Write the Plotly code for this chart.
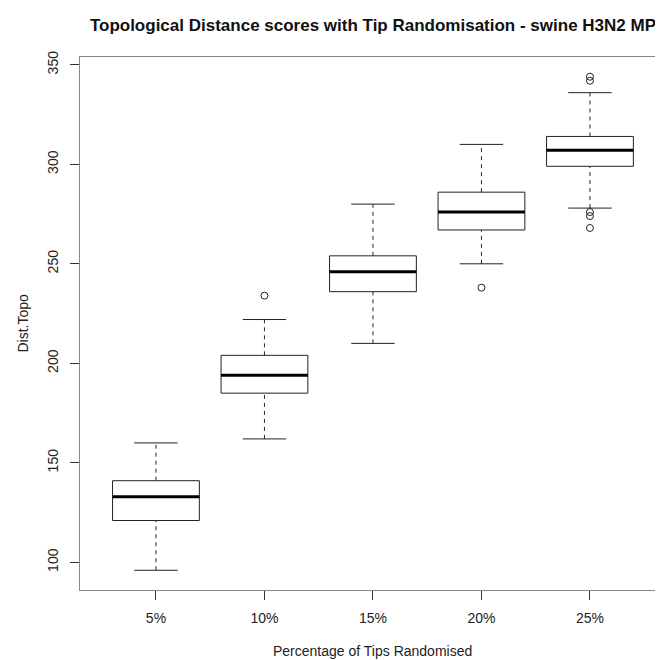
import plotly.graph_objects as go

# ---- data ----
categories = ["5%", "10%", "15%", "20%", "25%"]
lower_whisker = [96, 162, 210, 250, 278]
q1 = [121, 185, 236, 267, 299]
median = [133, 194, 246, 276, 307]
q3 = [141, 204, 254, 286, 314]
upper_whisker = [160, 222, 280, 310, 336]
outlier_group = [2, 4, 5, 5, 5, 5, 5]
outlier_value = [234, 238, 344, 342, 276, 274, 268]

y_ticks = [100, 150, 200, 250, 300, 350]

title = "Topological Distance scores with Tip Randomisation - swine H3N2 MP"
x_title = "Percentage of Tips Randomised"
y_title = "Dist.Topo"

# ---- geometry (R boxplot defaults) ----
half_box = 0.4
half_cap = 0.2
positions = list(range(1, len(categories) + 1))

box_x, box_y = [], []
wh_x, wh_y = [], []
cap_x, cap_y = [], []
med_x, med_y = [], []
for p, lw, a, m, b, uw in zip(positions, lower_whisker, q1, median, q3, upper_whisker):
    box_x += [p - half_box, p + half_box, p + half_box, p - half_box, p - half_box, None]
    box_y += [a, a, b, b, a, None]
    wh_x += [p, p, None, p, p, None]
    wh_y += [lw, a, None, b, uw, None]
    cap_x += [p - half_cap, p + half_cap, None, p - half_cap, p + half_cap, None]
    cap_y += [lw, lw, None, uw, uw, None]
    med_x += [p - half_box, p + half_box, None]
    med_y += [m, m, None]

line_col = "#222222"
fig = go.Figure()
fig.add_trace(go.Scatter(x=wh_x, y=wh_y, mode="lines",
                         line=dict(color=line_col, width=1, dash="4px,4px"),
                         hoverinfo="skip"))
fig.add_trace(go.Scatter(x=cap_x, y=cap_y, mode="lines",
                         line=dict(color=line_col, width=1), hoverinfo="skip"))
fig.add_trace(go.Scatter(x=box_x, y=box_y, mode="lines",
                         line=dict(color=line_col, width=1), hoverinfo="skip"))
fig.add_trace(go.Scatter(x=med_x, y=med_y, mode="lines",
                         line=dict(color="#000000", width=3), hoverinfo="skip"))
fig.add_trace(go.Scatter(x=outlier_group, y=outlier_value, mode="markers",
                         marker=dict(symbol="circle-open", size=7,
                                     color=line_col, line=dict(width=1)),
                         hoverinfo="y"))

data_min = min(lower_whisker + outlier_value)
data_max = max(upper_whisker + outlier_value)
span = data_max - data_min
y_range = [data_min - 0.04 * span, data_max + 0.04 * span]

# the page body has an 8px margin, so the figure is made 8px smaller
W, H = 655, 652
L, R, T, B = 72, 0, 49, 70
x_lo = 0.5 - 0.04 * len(categories)
px_per_unit = 108.5
x_hi = x_lo + (W - L - R) / px_per_unit

font = "Liberation Sans, Arial, Helvetica, sans-serif"
fig.update_layout(
    width=W, height=H,
    margin=dict(l=L, r=R, t=T, b=B),
    plot_bgcolor="white", paper_bgcolor="white",
    showlegend=False,
    font=dict(family=font, size=14, color="#222222"),
    title=dict(text="<b>" + title + "</b>", x=(L + (3 - x_lo) * px_per_unit) / W,
               xanchor="center", xref="container",
               y=1 - 17 / H, yanchor="middle", yref="container",
               font=dict(size=17, color="#111111", family=font)),
    xaxis=dict(range=[x_lo, x_hi], tickmode="array", tickvals=positions,
               ticktext=categories, ticks="outside", ticklen=9, tickwidth=1,
               tickcolor="#333333", showline=True, linecolor="#888888",
               linewidth=1, mirror=True, showgrid=False, zeroline=False,
               ticklabelstandoff=6),
    yaxis=dict(range=y_range, tickmode="array", tickvals=y_ticks,
               ticks="outside", ticklen=9, tickwidth=1, tickcolor="#333333",
               tickangle=-90, showline=True, linecolor="#888888", linewidth=1,
               mirror=False, showgrid=False, zeroline=False,
               ticklabelstandoff=6),
    annotations=[
        dict(text=x_title, xref="x", x=3, yref="paper", y=0, yanchor="middle",
             xanchor="center", yshift=-61, showarrow=False,
             font=dict(size=14, color="#222222")),
        dict(text=y_title, xref="paper", x=0, xanchor="center", xshift=-58,
             yref="paper", y=0.5, yanchor="middle", textangle=-90,
             showarrow=False, font=dict(size=14, color="#222222")),
    ],
)

fig.write_html("out.html")
